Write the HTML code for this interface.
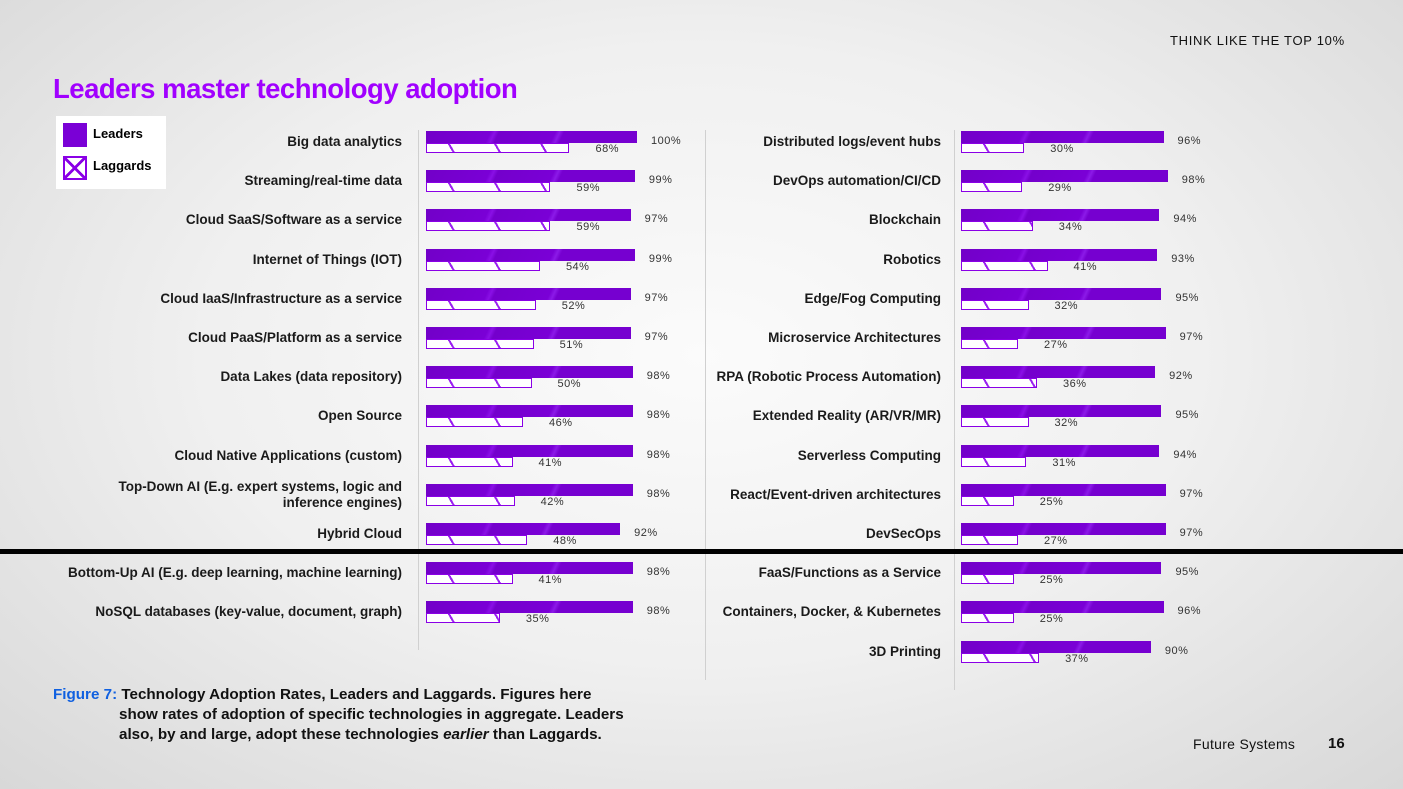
<!DOCTYPE html>
<html><head><meta charset="utf-8">
<style>
body{margin:0;width:1403px;height:789px;overflow:hidden;font-family:"Liberation Sans",sans-serif;}
#bg{position:absolute;left:0;top:0;width:1403px;height:789px;background:radial-gradient(ellipse at 50% 45%,#fbfbfb 0%,#f0f0f0 50%,#d8d8d8 100%);}
.abs{position:absolute;}
.lab{position:absolute;font-size:13.5px;font-weight:bold;color:#1a1a1a;text-align:right;line-height:16px;}
.pct{position:absolute;font-size:11px;color:#333;letter-spacing:0.5px;}
.lead{position:absolute;height:12px;background:linear-gradient(115deg,#7200c8 0%,#7a00d6 30%,#8a10e6 32%,#7400cc 34%,#7a00d6 60%,#8c1ae8 62%,#7600d0 64%);}
.lag{position:absolute;height:10px;border:1.5px solid #8a00e6;background:repeating-linear-gradient(60deg,transparent 0 22px,#9a20f0 22px 24px,transparent 24px 40px),#fff;box-sizing:border-box;}
</style></head><body>
<div id="bg"></div>
<div class="abs" style="left:1170px;top:33px;font-size:13px;letter-spacing:0.7px;color:#111;">THINK LIKE THE TOP 10%</div>
<div class="abs" style="left:53px;top:73px;font-size:27.5px;font-weight:bold;color:#a100ff;letter-spacing:-0.5px;">Leaders master technology adoption</div>
<div class="abs" style="left:56px;top:116px;width:110px;height:73px;background:#fff;">
 <div class="abs" style="left:7px;top:7px;width:24px;height:24px;background:#7a00d6;"></div>
 <div class="abs" style="left:37px;top:10px;font-size:13px;font-weight:bold;">Leaders</div>
 <div class="abs" style="left:7px;top:40px;width:24px;height:24px;box-sizing:border-box;border:2px solid #8a00e6;background:linear-gradient(45deg,transparent 45%,#8a00e6 45% 55%,transparent 55%),linear-gradient(-45deg,transparent 45%,#8a00e6 45% 55%,transparent 55%),#fff;"></div>
 <div class="abs" style="left:37px;top:42px;font-size:13px;font-weight:bold;">Laggards</div>
</div>
<div class="abs" style="left:418px;top:130px;width:1px;height:520px;background:#d0d0d0;"></div>
<div class="abs" style="left:705px;top:130px;width:1px;height:550px;background:#d0d0d0;"></div>
<div class="abs" style="left:954px;top:130px;width:1px;height:560px;background:#d0d0d0;"></div>
<div id="charts"></div>
<div class="abs" style="left:0;top:549px;width:1403px;height:5px;background:#000;"></div>
<div class="abs" style="left:53px;top:685px;font-size:15.2px;font-weight:bold;line-height:20px;color:#111;white-space:nowrap;">
<span style="color:#1060e0">Figure 7:</span> Technology Adoption Rates, Leaders and Laggards. Figures here<br>
<span style="padding-left:66px">show rates of adoption of specific technologies in aggregate. Leaders</span><br>
<span style="padding-left:66px">also, by and large, adopt these technologies <i>earlier</i> than Laggards.</span></div>
<div class="abs" style="left:1193px;top:736px;font-size:14px;color:#111;letter-spacing:0.3px;">Future Systems</div>
<div class="abs" style="left:1328px;top:735px;font-size:15px;font-weight:bold;color:#111;">16</div>
<script>
const leftCategories=["Big data analytics","Streaming/real-time data","Cloud SaaS/Software as a service","Internet of Things (IOT)","Cloud IaaS/Infrastructure as a service","Cloud PaaS/Platform as a service","Data Lakes (data repository)","Open Source","Cloud Native Applications (custom)","Top-Down AI (E.g. expert systems, logic and<br>inference engines)","Hybrid Cloud","Bottom-Up AI (E.g. deep learning, machine learning)","NoSQL databases (key-value, document, graph)"];
const leftLeaders=[100,99,97,99,97,97,98,98,98,98,92,98,98];
const leftLaggards=[68,59,59,54,52,51,50,46,41,42,48,41,35];
const rightCategories=["Distributed logs/event hubs","DevOps automation/CI/CD","Blockchain","Robotics","Edge/Fog Computing","Microservice Architectures","RPA (Robotic Process Automation)","Extended Reality (AR/VR/MR)","Serverless Computing","React/Event-driven architectures","DevSecOps","FaaS/Functions as a Service","Containers, Docker, & Kubernetes","3D Printing"];
const rightLeaders=[96,98,94,93,95,97,92,95,94,97,97,95,96,90];
const rightLaggards=[30,29,34,41,32,27,36,32,31,25,27,25,25,37];
const root=document.getElementById('charts');
function draw(cats,lead,lag,x0,labelRight){
  const sx=v=>v*2.11;
  const rowY=i=>142+i*39.2;
  cats.forEach((c,i)=>{
    const y=rowY(i);
    const l=document.createElement('div');
    l.className='lab';
    
    
    l.innerHTML=c;
    const two=c.indexOf('<br>')>=0;
    l.style.right=(1403-labelRight)+'px';
    l.style.top=(y-(two?16:8))+'px';
    root.appendChild(l);
    const b=document.createElement('div');
    b.className='lead';
    
    
    b.style.left=x0+'px';b.style.top=(y-11)+'px';b.style.width=sx(lead[i])+'px';
    root.appendChild(b);
    const g=document.createElement('div');
    g.className='lag';
    
    
    g.style.left=x0+'px';g.style.top=(y+1)+'px';g.style.width=sx(lag[i])+'px';
    root.appendChild(g);
    const p=document.createElement('div');
    p.className='pct';
    
    
    p.textContent=lead[i]+'%';
    p.style.left=(x0+sx(lead[i])+14)+'px';p.style.top=(y-7)+'px';
    root.appendChild(p);
    const q=document.createElement('div');
    q.className='pct';
    
    
    q.textContent=lag[i]+'%';
    q.style.left=(x0+sx(lag[i])+26)+'px';q.style.top=(y+1)+'px';
    root.appendChild(q);
  });
}
draw(leftCategories,leftLeaders,leftLaggards,426,402);
draw(rightCategories,rightLeaders,rightLaggards,961,941);
</script>
</body></html>
